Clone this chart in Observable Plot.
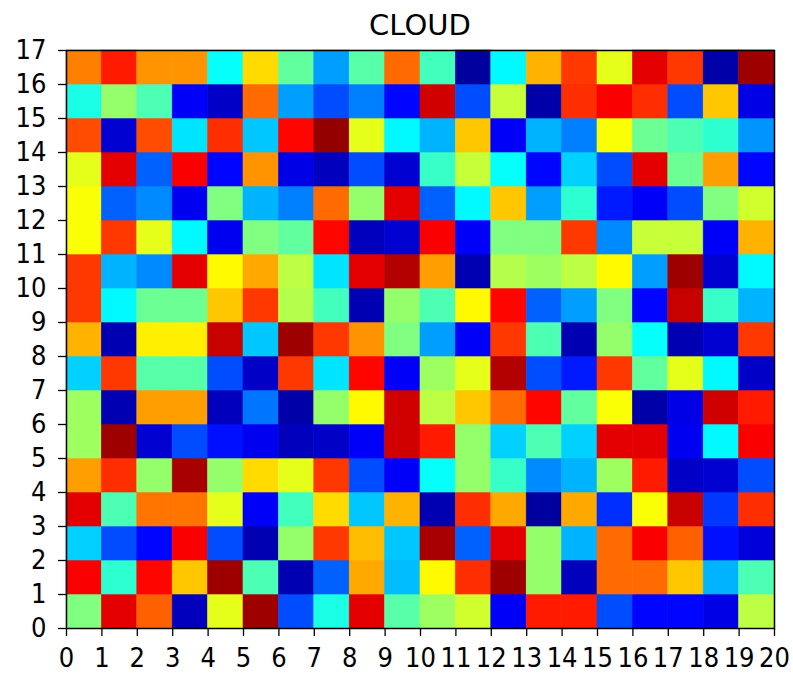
<!DOCTYPE html>
<html>
<head>
<meta charset="utf-8">
<script src="https://cdn.jsdelivr.net/npm/d3@7"></script>
<script src="https://cdn.jsdelivr.net/npm/@observablehq/plot@0.6"></script>
<style>
  html, body { margin: 0; padding: 0; background: #fff; }
  #wrap { position: relative; width: 793px; height: 673px; }
  #title { position: absolute; z-index: 2; left: 66px; width: 708px; top: 10px; text-align: center;
           font-family: "DejaVu Sans", sans-serif; font-size: 29px; line-height: 30px; color: #000; }
  #chart { position: absolute; z-index: 1; left: 0; top: 0; }
</style>
</head>
<body>
<div id="wrap">
  <div id="chart"></div>
  <div id="title">CLOUD</div>
</div>
<script>
const titleText = "CLOUD";
const xTicks = d3.range(0, 21);
const yTicks = d3.range(0, 18);

// rows from top (16) to bottom (0); each value is the normalised colour value (0..1, jet colormap)
const row16 = [0.75,0.85,0.73,0.73,0.38,0.66,0.47,0.28,0.46,0.77,0.44,0.03,0.37,0.70,0.82,0.60,0.90,0.82,0.04,0.97];
const row15 = [0.40,0.52,0.45,0.12,0.07,0.77,0.28,0.20,0.25,0.13,0.92,0.20,0.57,0.04,0.83,0.88,0.83,0.20,0.68,0.10];
const row14 = [0.80,0.08,0.80,0.35,0.83,0.32,0.87,0.98,0.60,0.37,0.30,0.68,0.12,0.30,0.25,0.62,0.48,0.45,0.42,0.27];
const row13 = [0.60,0.90,0.22,0.88,0.13,0.73,0.10,0.06,0.20,0.08,0.43,0.57,0.38,0.13,0.33,0.20,0.90,0.48,0.72,0.13];
const row12 = [0.62,0.22,0.26,0.11,0.50,0.30,0.25,0.77,0.52,0.90,0.22,0.37,0.68,0.28,0.42,0.15,0.12,0.20,0.50,0.58];
const row11 = [0.62,0.82,0.60,0.37,0.11,0.50,0.47,0.87,0.06,0.08,0.88,0.12,0.50,0.50,0.82,0.26,0.57,0.57,0.12,0.70];
const row10 = [0.82,0.30,0.26,0.90,0.63,0.71,0.56,0.35,0.90,0.95,0.72,0.05,0.55,0.53,0.56,0.63,0.28,0.97,0.08,0.37];
const row9  = [0.82,0.37,0.48,0.48,0.68,0.82,0.55,0.44,0.05,0.52,0.45,0.63,0.87,0.22,0.28,0.50,0.13,0.93,0.43,0.30];
const row8  = [0.70,0.05,0.64,0.64,0.93,0.32,0.97,0.82,0.73,0.50,0.28,0.12,0.82,0.45,0.05,0.52,0.38,0.05,0.08,0.82];
const row7  = [0.33,0.82,0.46,0.46,0.20,0.07,0.82,0.35,0.87,0.12,0.53,0.60,0.95,0.20,0.15,0.82,0.47,0.60,0.37,0.07];
const row6  = [0.53,0.05,0.72,0.72,0.06,0.24,0.04,0.52,0.63,0.92,0.56,0.68,0.77,0.87,0.47,0.62,0.04,0.10,0.92,0.85];
const row5  = [0.53,0.97,0.08,0.20,0.14,0.11,0.06,0.07,0.12,0.92,0.85,0.52,0.33,0.45,0.33,0.90,0.90,0.11,0.37,0.88];
const row4  = [0.72,0.83,0.52,0.96,0.52,0.66,0.60,0.82,0.20,0.12,0.38,0.52,0.43,0.26,0.30,0.53,0.85,0.07,0.08,0.20];
const row3  = [0.90,0.45,0.76,0.76,0.60,0.12,0.44,0.66,0.32,0.70,0.05,0.83,0.71,0.03,0.71,0.17,0.62,0.93,0.18,0.83];
const row2  = [0.33,0.20,0.13,0.88,0.20,0.05,0.52,0.82,0.69,0.32,0.96,0.22,0.90,0.52,0.30,0.77,0.88,0.78,0.14,0.09];
const row1  = [0.88,0.42,0.87,0.68,0.97,0.45,0.05,0.22,0.71,0.31,0.63,0.83,0.97,0.52,0.06,0.77,0.77,0.68,0.30,0.45];
const row0  = [0.50,0.90,0.78,0.06,0.60,0.97,0.20,0.40,0.90,0.46,0.53,0.58,0.12,0.85,0.85,0.20,0.13,0.13,0.10,0.56];

const rowsBottomUp = [row0,row1,row2,row3,row4,row5,row6,row7,row8,row9,row10,row11,row12,row13,row14,row15,row16];

const cells = [];
rowsBottomUp.forEach((row, r) => row.forEach((v, c) => cells.push({col: c, row: r, value: v})));

function jet(t) {
  const cl = v => Math.max(0, Math.min(1, v));
  const r = cl(1.5 - Math.abs(4 * t - 3));
  const g = cl(1.5 - Math.abs(4 * t - 2));
  const b = cl(1.5 - Math.abs(4 * t - 1));
  return `rgb(${Math.round(r*255)},${Math.round(g*255)},${Math.round(b*255)})`;
}

document.getElementById("title").textContent = titleText;

const chart = Plot.plot({
  width: 793,
  height: 673,
  marginTop: 50,
  marginBottom: 45,
  marginLeft: 66,
  marginRight: 19,
  style: {fontFamily: "'DejaVu Sans Condensed', 'DejaVu Sans', sans-serif", fontSize: "27px", color: "#000", background: "transparent"},
  x: {domain: [0, 20], ticks: xTicks, tickFormat: d3.format("d"), label: null},
  y: {domain: [0, 17], ticks: yTicks, tickFormat: d3.format("d"), label: null},
  color: {type: "linear", domain: [0, 1], interpolate: jet},
  marks: [
    Plot.rect(cells, {x1: "col", x2: d => d.col + 1, y1: "row", y2: d => d.row + 1, fill: "value", stroke: "value", strokeWidth: 0.6}),
    Plot.frame({stroke: "#000", strokeWidth: 1.5}),
    Plot.axisX({ticks: xTicks, tickFormat: d3.format("d"), tickSize: 8, tickPadding: 11, stroke: "#000", strokeWidth: 1.3, label: null}),
    Plot.axisY({ticks: yTicks, tickFormat: d3.format("d"), tickSize: 8, tickPadding: 12, stroke: "#000", strokeWidth: 1.3, label: null})
  ]
});
document.getElementById("chart").appendChild(chart);
</script>
</body>
</html>
